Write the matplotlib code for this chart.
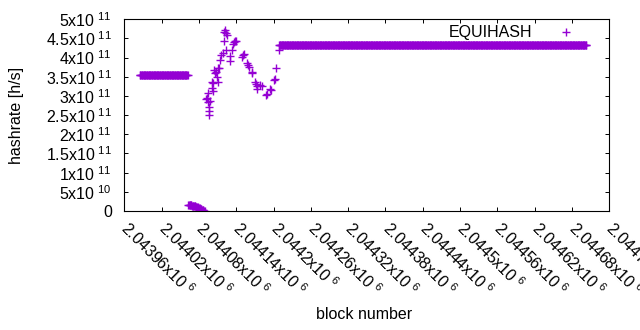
import numpy as np
import matplotlib
matplotlib.use('Agg')
import matplotlib.pyplot as plt

# block numbers are stored as offsets from the left end of the x range
base_block = 2043960

# flat run before the drop
run1_start, run1_end, run1_rate = 25, 102, 3.56e11
# short run close to zero
run2_start = 103
run2_rates = [1.60, 1.58, 1.55, 1.50, 1.48, 1.45, 1.40, 1.38, 1.33, 1.30,
              1.25, 1.20, 1.10, 1.05, 1.00, 0.92, 0.85, 0.78, 0.70, 0.62,
              0.55, 0.45, 0.38, 0.30, 0.22, 0.12, 0.03]  # x 1e10
# scattered recovery
mid_blocks = [132, 133, 134, 135, 137, 137, 137, 138, 141, 142, 141, 142,
              146, 147, 145, 149, 151, 151, 152, 154, 156, 159, 161, 161,
              162, 163, 165, 164, 170, 170, 173, 175, 176, 178, 180, 191,
              192, 190, 197, 199, 200, 205, 206, 210, 212, 214, 214, 219,
              221, 228, 229, 235, 236, 241, 242, 244, 248]
mid_rates = [2.93, 2.95, 3.07, 2.85, 2.72, 2.61, 2.50, 2.88, 3.37, 3.33,
             3.20, 3.12, 3.60, 3.63, 3.67, 3.50, 3.37, 3.72, 3.74, 3.95,
             4.06, 4.11, 4.43, 4.67, 4.72, 4.64, 4.60, 4.21, 4.04, 3.91,
             4.21, 4.36, 4.40, 4.43, 4.44, 4.06, 4.09, 4.02, 3.86, 3.80,
             3.76, 3.63, 3.60, 3.37, 3.30, 3.26, 3.17, 3.28, 3.26, 3.02,
             3.05, 3.17, 3.15, 3.41, 3.45, 3.72, 4.19]  # x 1e11
# flat run after recovery
run3_start, run3_end, run3_rate = 249, 743, 4.32e11

xticks = np.arange(2043960, 2044741, 60)
yticks = np.arange(0, 5.01e11, 5e10)

blocks = np.concatenate([
    np.arange(run1_start, run1_end + 1),
    run2_start + np.arange(len(run2_rates)),
    np.array(mid_blocks),
    np.arange(run3_start, run3_end + 1)]) + base_block
rates = np.concatenate([
    np.full(run1_end - run1_start + 1, run1_rate),
    np.array(run2_rates) * 1e10,
    np.array(mid_rates) * 1e11,
    np.full(run3_end - run3_start + 1, run3_rate)])


def sci_label(v):
    if v == 0:
        return '0'
    exp = int(np.floor(np.log10(v)))
    mant = f"{v / 10**exp:.5f}".rstrip('0').rstrip('.')
    return r'$\mathregular{' + mant + r'x10^{\ ' + str(exp) + r'}}$'


plt.rcParams['font.family'] = ['Liberation Sans', 'DejaVu Sans']
plt.rcParams['font.size'] = 11.5

fig = plt.figure(figsize=(6.4, 3.3), dpi=100)
ax = fig.add_axes([124.3 / 640, 1 - 211 / 330, 485 / 640, 191.7 / 330])

ax.plot(blocks, rates, linestyle=' ', marker='+', markersize=5.2,
        markeredgewidth=1.0, color='#9400D3', label='EQUIHASH')

ax.set_xlim(2043960, 2044740)
ax.set_ylim(0, 5e11)
ax.set_xticks(xticks)
ax.set_xticklabels([sci_label(v) for v in xticks], rotation=-45,
                   ha='left', va='center', rotation_mode='anchor')
ax.set_yticks(yticks)
ax.set_yticklabels([sci_label(v) for v in yticks])
ax.tick_params(direction='in', length=2.9, width=0.7, top=True, right=True,
               color='black')
ax.tick_params(axis='x', pad=10.5)
ax.tick_params(axis='y', pad=9)
for s in ax.spines.values():
    s.set_linewidth(0.8)

ax.set_ylabel('hashrate [h/s]', va='center')
ax.yaxis.set_label_coords(-0.222, 0.5)
ax.set_xlabel('block number', va='center')
ax.xaxis.set_label_coords(0.494, -0.542)

ax.legend(loc='upper right', bbox_to_anchor=(0.944, 0.968), frameon=False,
          markerfirst=False, handlelength=2, handletextpad=1.1,
          borderaxespad=0, borderpad=0)

fig.savefig('out.png', dpi=100)
